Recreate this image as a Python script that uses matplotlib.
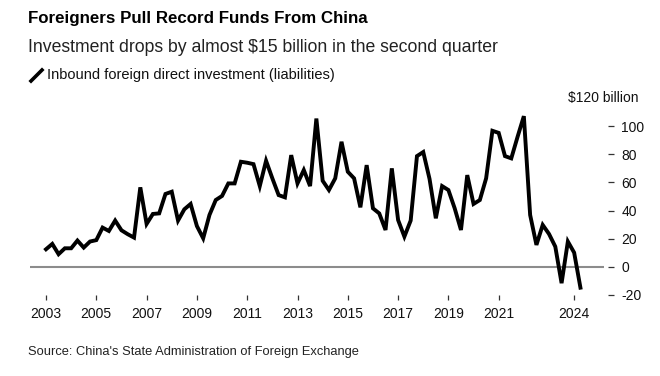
import numpy as np
import pandas as pd
import matplotlib
matplotlib.use("Agg")
import matplotlib.pyplot as plt
from matplotlib.lines import Line2D

plt.rcParams['font.family'] = ['Liberation Sans', 'DejaVu Sans']

# Quarterly inbound FDI (liabilities), $ billion, 2003Q1 - 2024Q2
first_quarter = "2003Q1"
last_quarter = "2024Q2"
fdi_values = [
    12.5, 16.3, 9.0, 13.2, 13.2, 18.7, 13.7, 18.0, 19.0, 27.9, 25.5, 32.9,
    26.0, 23.2, 20.8, 56.5, 30.5, 37.6, 38.0, 51.8, 53.4, 32.9, 40.9, 44.7,
    29.0, 20.3, 36.9, 47.5, 50.4, 59.3, 59.3, 74.7, 74.0, 73.0, 57.4, 75.4,
    62.9, 51.0, 49.4, 79.4, 59.3, 68.8, 57.4, 105.4, 61.2, 54.6, 62.9, 88.9,
    67.6, 62.9, 42.3, 72.3, 41.6, 38.0, 26.2, 70.0, 33.3, 21.5, 32.9, 78.7,
    81.6, 62.5, 34.5, 57.4, 54.6, 41.6, 26.2, 65.2, 44.7, 47.5, 62.9, 96.7,
    95.2, 78.7, 77.1, 92.4, 107.1, 36.9, 15.6, 29.8, 23.4, 14.4, -11.6, 18.0,
    10.1, -14.8,
]
x_tick_years = [2003, 2005, 2007, 2009, 2011, 2013, 2015, 2017, 2019, 2021, 2024]
y_ticks = [-20, 0, 20, 40, 60, 80, 100]

title = "Foreigners Pull Record Funds From China"
subtitle = "Investment drops by almost $15 billion in the second quarter"
legend_label = "Inbound foreign direct investment (liabilities)"
source = "Source: China's State Administration of Foreign Exchange"


def main():
    quarters = pd.period_range(first_quarter, last_quarter, freq="Q")
    x = quarters.year + (quarters.quarter - 1) / 4.0

    W, H = 660, 376
    fig = plt.figure(figsize=(W / 100, H / 100), dpi=100)

    # axes box in pixel terms: left 30, right 604, top (120) 98, bottom (-20) 295
    ax = fig.add_axes([30 / W, (H - 295) / H, (604 - 30) / W, (295 - 98) / H])
    ax.set_xlim(2003 - 16 / 25.15, 2003 + 558 / 25.15)
    ax.set_ylim(-20, 120)

    ax.axhline(0, color="#8c8c8c", lw=1.5, zorder=1)
    ax.plot(x, fdi_values, color="black", lw=2.8, solid_joinstyle="miter", zorder=3)

    for side in ["top", "left", "bottom", "right"]:
        ax.spines[side].set_visible(False)
    ax.spines["right"].set_position(("outward", 3))

    ax.yaxis.tick_right()
    ax.set_yticks(y_ticks)
    ax.set_yticklabels([str(v) for v in y_ticks])
    ax.tick_params(axis="y", direction="out", length=4.5, width=0.9,
                   color="#333333", pad=5, labelsize=10, labelcolor="#111111")

    ax.set_xticks(x_tick_years)
    ax.set_xticklabels([str(v) for v in x_tick_years])
    ax.tick_params(axis="x", direction="out", length=3.5, width=0.9,
                   color="#333333", pad=5, labelsize=10, labelcolor="#111111")

    ax.text(1.0 + 34 / 574, 120, "$120 billion", transform=ax.get_yaxis_transform(),
            ha="right", va="center", fontsize=10, color="#111111")

    # header texts
    fig.text(28 / W, 1 - 19 / H, title, fontsize=12.2, fontweight="bold",
             ha="left", va="center", color="black")
    fig.text(28 / W, 1 - 48 / H, subtitle, fontsize=12.7,
             ha="left", va="center", color="#222222")
    fig.add_artist(Line2D([31 / W, 42 / W], [1 - 81 / H, 1 - 70 / H],
                          transform=fig.transFigure, color="black", lw=2.6))
    fig.text(47 / W, 1 - 75 / H, legend_label, fontsize=10.5,
             ha="left", va="center", color="#111111")
    fig.text(28 / W, 1 - 352 / H, source, fontsize=9.3,
             ha="left", va="center", color="#222222")

    fig.savefig("out.png", dpi=100)
    plt.close(fig)


if __name__ == "__main__":
    main()
